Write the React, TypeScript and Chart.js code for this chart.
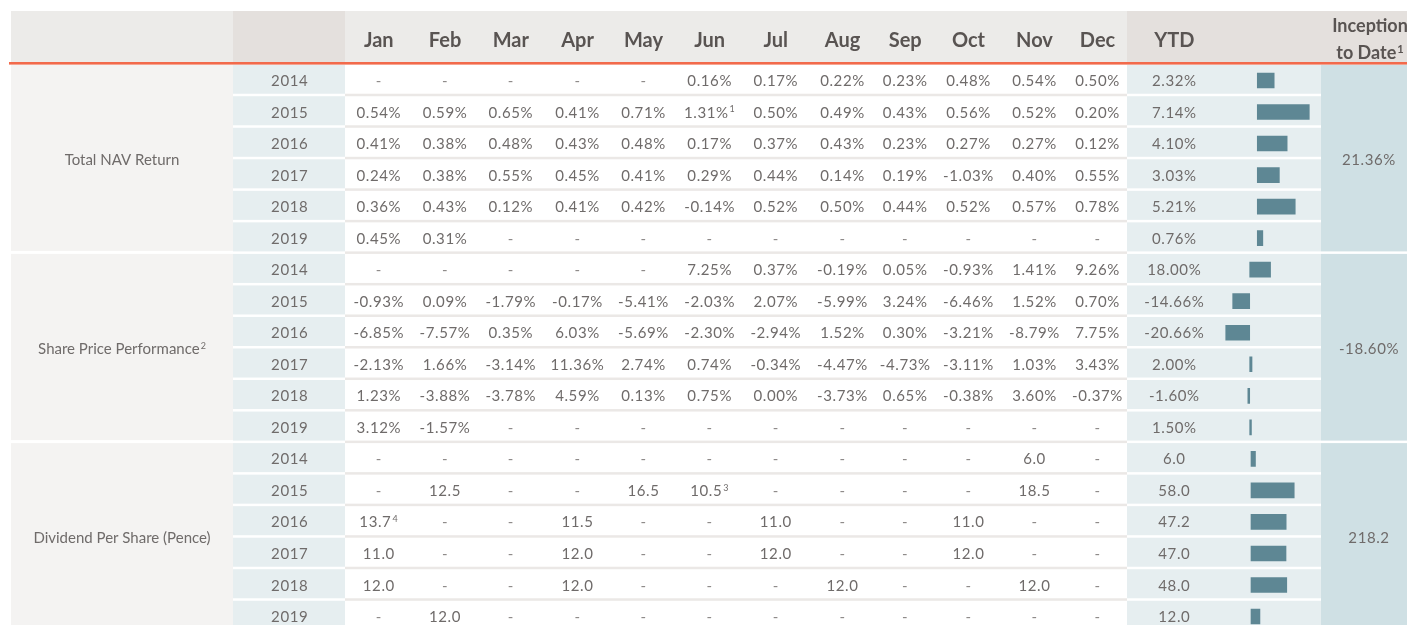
import React, { useEffect, useRef } from "react";
import { Chart, registerables } from "chart.js";

Chart.register(...registerables);

// ---------- DATA ----------
const months = ["Jan", "Feb", "Mar", "Apr", "May", "Jun", "Jul", "Aug", "Sep", "Oct", "Nov", "Dec"];
const years = ["2014", "2015", "2016", "2017", "2018", "2019"];
const sectionNames = ["Total NAV Return", "Share Price Performance²", "Dividend Per Share (Pence)"];

const navMonthly: string[][] = [
  ["-", "-", "-", "-", "-", "0.16%", "0.17%", "0.22%", "0.23%", "0.48%", "0.54%", "0.50%"],
  ["0.54%", "0.59%", "0.65%", "0.41%", "0.71%", "1.31%¹", "0.50%", "0.49%", "0.43%", "0.56%", "0.52%", "0.20%"],
  ["0.41%", "0.38%", "0.48%", "0.43%", "0.48%", "0.17%", "0.37%", "0.43%", "0.23%", "0.27%", "0.27%", "0.12%"],
  ["0.24%", "0.38%", "0.55%", "0.45%", "0.41%", "0.29%", "0.44%", "0.14%", "0.19%", "-1.03%", "0.40%", "0.55%"],
  ["0.36%", "0.43%", "0.12%", "0.41%", "0.42%", "-0.14%", "0.52%", "0.50%", "0.44%", "0.52%", "0.57%", "0.78%"],
  ["0.45%", "0.31%", "-", "-", "-", "-", "-", "-", "-", "-", "-", "-"],
];
const shareMonthly: string[][] = [
  ["-", "-", "-", "-", "-", "7.25%", "0.37%", "-0.19%", "0.05%", "-0.93%", "1.41%", "9.26%"],
  ["-0.93%", "0.09%", "-1.79%", "-0.17%", "-5.41%", "-2.03%", "2.07%", "-5.99%", "3.24%", "-6.46%", "1.52%", "0.70%"],
  ["-6.85%", "-7.57%", "0.35%", "6.03%", "-5.69%", "-2.30%", "-2.94%", "1.52%", "0.30%", "-3.21%", "-8.79%", "7.75%"],
  ["-2.13%", "1.66%", "-3.14%", "11.36%", "2.74%", "0.74%", "-0.34%", "-4.47%", "-4.73%", "-3.11%", "1.03%", "3.43%"],
  ["1.23%", "-3.88%", "-3.78%", "4.59%", "0.13%", "0.75%", "0.00%", "-3.73%", "0.65%", "-0.38%", "3.60%", "-0.37%"],
  ["3.12%", "-1.57%", "-", "-", "-", "-", "-", "-", "-", "-", "-", "-"],
];
const dividendMonthly: string[][] = [
  ["-", "-", "-", "-", "-", "-", "-", "-", "-", "-", "6.0", "-"],
  ["-", "12.5", "-", "-", "16.5", "10.5³", "-", "-", "-", "-", "18.5", "-"],
  ["13.7⁴", "-", "-", "11.5", "-", "-", "11.0", "-", "-", "11.0", "-", "-"],
  ["11.0", "-", "-", "12.0", "-", "-", "12.0", "-", "-", "12.0", "-", "-"],
  ["12.0", "-", "-", "12.0", "-", "-", "-", "12.0", "-", "-", "12.0", "-"],
  ["-", "12.0", "-", "-", "-", "-", "-", "-", "-", "-", "-", "-"],
];

const navYtd = [2.32, 7.14, 4.1, 3.03, 5.21, 0.76];
const shareYtd = [18.0, -14.66, -20.66, 2.0, -1.6, 1.5];
const dividendYtd = [6.0, 58.0, 47.2, 47.0, 48.0, 12.0];
const inceptionToDate = ["21.36%", "-18.60%", "218.2"];

// ---------- LAYOUT / STYLE ----------
const W = 1407;
const H = 640;
const COL_LABEL = [11, 233];
const COL_YEAR = [233, 345];
const COL_MONTHS = [345, 1127];
const COL_YTD = [1127, 1321];
const COL_INC = [1321, 1407];
const monthCenters = [378.8, 445, 510.8, 577.5, 643.5, 709.7, 775.8, 842.5, 905.2, 968.5, 1034.5, 1097.5];
const yearCenter = 289.7;
const ytdCenter = 1174.3;
const labelCenter = 122;
const incCenter = 1369;

const TEXT = "#6f6b6a";
const HEAD = "#595452";
const FONT = '"Lato", "DejaVu Sans", sans-serif';
const SUP_MAP: Record<string, string> = { "¹": "1", "²": "2", "³": "3", "⁴": "4" };

const sections = [navMonthly, shareMonthly, dividendMonthly];
const ytdText = [
  navYtd.map((v) => v.toFixed(2) + "%"),
  shareYtd.map((v) => v.toFixed(2) + "%"),
  dividendYtd.map((v) => v.toFixed(1)),
];
const rowLabels: string[] = [];
sectionNames.forEach((s) => years.forEach((y) => rowLabels.push(s + " " + y)));
const empty6 = [null, null, null, null, null, null];

// draw text centred at cx, with any trailing superscript digit drawn smaller and raised
function drawText(ctx: CanvasRenderingContext2D, text: string, cx: number, base: number, size: number, weight: string, spacing: number) {
  const m = text.match(/^(.*?)([¹²³⁴]+)$/);
  (ctx as any).letterSpacing = spacing + "px";
  ctx.textAlign = "left";
  const mainFont = `${weight} ${size}px ${FONT}`;
  const supSize = Math.round(size * 0.62);
  const supFont = `${weight} ${supSize}px ${FONT}`;
  const main = m ? m[1] : text;
  const sup = m ? m[2].split("").map((c) => SUP_MAP[c] || c).join("") : "";
  ctx.font = mainFont;
  const w1 = ctx.measureText(main).width;
  let w2 = 0;
  if (sup) {
    ctx.font = supFont;
    w2 = ctx.measureText(sup).width + 1;
  }
  const x0 = cx - (w1 + w2) / 2;
  ctx.font = mainFont;
  ctx.fillText(main, x0, base);
  if (sup) {
    ctx.font = supFont;
    ctx.fillText(sup, x0 + w1 + 1, base - size * 0.36);
  }
}

const tablePlugin = {
  id: "tablePlugin",
  beforeDatasetsDraw(chart: any) {
    const ctx: CanvasRenderingContext2D = chart.ctx;
    const ys = chart.scales.y;
    const pitch = ys.getPixelForValue(1) - ys.getPixelForValue(0);
    const top = (i: number) => ys.getPixelForValue(i) - pitch / 2;
    ctx.save();
    ctx.fillStyle = "#ffffff";
    ctx.fillRect(0, 0, W, H);
    const h0 = 11, h1 = 62.5;
    ctx.fillStyle = "#ecebe9";
    ctx.fillRect(COL_LABEL[0], h0, COL_LABEL[1] - COL_LABEL[0], h1 - h0);
    ctx.fillRect(COL_MONTHS[0], h0, COL_MONTHS[1] - COL_MONTHS[0], h1 - h0);
    ctx.fillStyle = "#e4e0dd";
    ctx.fillRect(COL_YEAR[0], h0, COL_YEAR[1] - COL_YEAR[0], h1 - h0);
    ctx.fillRect(COL_YTD[0], h0, W - COL_YTD[0], h1 - h0);
    for (let s = 0; s < 3; s++) {
      const sy0 = top(s * 6);
      const sy1 = top(s * 6 + 6);
      ctx.fillStyle = "#f4f3f2";
      ctx.fillRect(COL_LABEL[0], sy0, COL_LABEL[1] - COL_LABEL[0], sy1 - sy0 - 3);
      ctx.fillStyle = "#cfe0e4";
      ctx.fillRect(COL_INC[0], sy0, COL_INC[1] - COL_INC[0], sy1 - sy0 - 2.5);
    }
    for (let i = 0; i < 18; i++) {
      const r0 = top(i);
      const r1 = r0 + pitch;
      ctx.fillStyle = "#e6eef0";
      ctx.fillRect(COL_YEAR[0], r0, COL_YEAR[1] - COL_YEAR[0], pitch - 2.5);
      ctx.fillRect(COL_YTD[0], r0, COL_YTD[1] - COL_YTD[0], pitch - 2.5);
      ctx.fillStyle = "#ebe8e6";
      ctx.fillRect(COL_MONTHS[0], r1 - 2.5, COL_MONTHS[1] - COL_MONTHS[0], 2.5);
    }
    ctx.fillStyle = "#f26a4b";
    ctx.fillRect(9, 62, W - 9, 2.6);
    ctx.restore();
  },
  afterDatasetsDraw(chart: any) {
    const ctx: CanvasRenderingContext2D = chart.ctx;
    const ys = chart.scales.y;
    const pitch = ys.getPixelForValue(1) - ys.getPixelForValue(0);
    const top = (i: number) => ys.getPixelForValue(i) - pitch / 2;
    ctx.save();
    ctx.textBaseline = "alphabetic";
    ctx.fillStyle = HEAD;
    months.forEach((m, j) => drawText(ctx, m, monthCenters[j], 46.7, 20, "bold", 0));
    drawText(ctx, "YTD", ytdCenter, 46.7, 20, "bold", 0);
    drawText(ctx, "Inception", incCenter + 1, 31.7, 18, "bold", 0);
    drawText(ctx, "to Date¹", incCenter + 1, 59, 18, "bold", 0);
    for (let s = 0; s < 3; s++) {
      for (let r = 0; r < 6; r++) {
        const i = s * 6 + r;
        const cy = ys.getPixelForValue(i);
        const base = cy + 5.5;
        ctx.fillStyle = TEXT;
        drawText(ctx, years[r], yearCenter, base, 15, "normal", 0.6);
        sections[s][r].forEach((v, j) => {
          ctx.fillStyle = v === "-" ? "#8f8b8a" : TEXT;
          drawText(ctx, v, monthCenters[j], base, 15, "normal", 0.6);
        });
        ctx.fillStyle = TEXT;
        drawText(ctx, ytdText[s][r], ytdCenter, base, 15, "normal", 0.6);
      }
      const mid = top(s * 6 + 3) + 5.5;
      ctx.fillStyle = TEXT;
      drawText(ctx, sectionNames[s], labelCenter, mid, 15, "normal", 0);
      drawText(ctx, inceptionToDate[s], incCenter, mid, 15, "normal", 0.6);
    }
    ctx.restore();
  },
};

export default function App() {
  const ref = useRef<HTMLCanvasElement | null>(null);
  useEffect(() => {
    if (!ref.current) return;
    const chart = new Chart(ref.current, {
      type: "bar",
      data: {
        labels: rowLabels,
        datasets: [
          {
            label: "NAV YTD",
            data: [...navYtd, ...empty6, ...empty6],
            xAxisID: "xNav",
            backgroundColor: "#5e8794",
            barThickness: 15,
            grouped: false,
          } as any,
          {
            label: "Share YTD",
            data: [...empty6, ...shareYtd, ...empty6],
            xAxisID: "xShare",
            backgroundColor: "#5e8794",
            barThickness: 15,
            grouped: false,
          } as any,
          {
            label: "Dividend YTD",
            data: [...empty6, ...empty6, ...dividendYtd],
            xAxisID: "xDiv",
            backgroundColor: "#5e8794",
            barThickness: 15,
            grouped: false,
          } as any,
        ],
      },
      options: {
        indexAxis: "y",
        responsive: false,
        animation: false,
        devicePixelRatio: 1,
        layout: { padding: { left: 1220, right: W - 1320, top: 64.7, bottom: H - 632.3 } },
        plugins: { legend: { display: false }, tooltip: { enabled: false }, title: { display: false } },
        scales: {
          y: { type: "category", display: false, offset: true },
          xNav: { type: "linear", display: false, min: -5.12, max: 8.61 },
          xShare: { type: "linear", display: false, min: -25.6, max: 60.6 },
          xDiv: { type: "linear", display: false, min: -41.6, max: 92.6 },
        },
      } as any,
      plugins: [tablePlugin],
    });
    return () => chart.destroy();
  }, []);
  return (
    <div style={{ position: "fixed", left: 0, top: 0, width: W, height: 625, overflow: "hidden", background: "#fff" }}>
      <canvas ref={ref} width={W} height={H} style={{ display: "block", width: W, height: H }} />
    </div>
  );
}
